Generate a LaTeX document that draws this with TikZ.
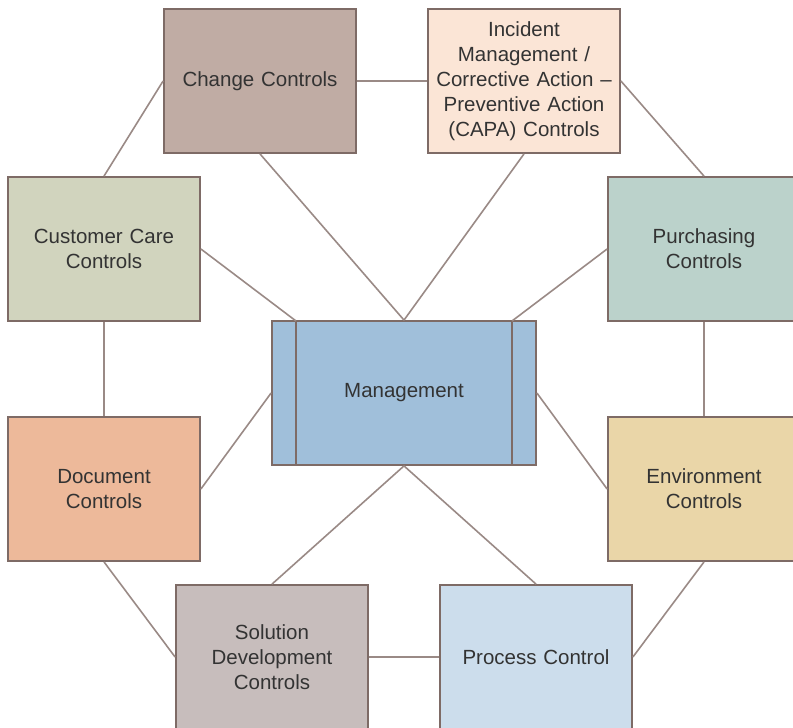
\documentclass[tikz,border=0pt]{standalone}
\usepackage{fontspec}
\setmainfont{Liberation Sans}
\usetikzlibrary{calc}
\definecolor{edge}{HTML}{7E6B66}
\definecolor{wire}{HTML}{9A8A86}
\definecolor{txt}{HTML}{333333}
\definecolor{cChange}{HTML}{C0ACA4}
\definecolor{cIncident}{HTML}{FBE5D6}
\definecolor{cCustomer}{HTML}{D1D4BE}
\definecolor{cPurch}{HTML}{BBD2CB}
\definecolor{cMgmt}{HTML}{A0BFDA}
\definecolor{cDoc}{HTML}{EDB99A}
\definecolor{cEnv}{HTML}{EAD6A8}
\definecolor{cSol}{HTML}{C7BDBC}
\definecolor{cProc}{HTML}{CCDDEC}
\tikzset{
  box/.style={draw=edge, line width=1.8pt, minimum width=192pt, minimum height=144pt,
    inner sep=0pt, align=center, text=txt,
    font=\fontsize{20.5pt}{25pt}\selectfont, text width=185pt},
  link/.style={draw=wire, line width=1.6pt}
}
\begin{document}
\begin{tikzpicture}[x=1pt,y=-1pt]
\useasboundingbox (0,0) rectangle (793,728);
\clip (0,0) rectangle (793,728);
\fill[white] (0,0) rectangle (793,728);
% connectors
\coordinate (mtl) at (296,321);
\coordinate (mtr) at (512,321);
\node[box, fill=cChange] (change) at (260,81) {Change Controls};
\node[box, fill=cIncident] (incident) at (524,81) {Incident\\Management /\\Corrective Action –\\Preventive Action\\(CAPA) Controls};
\node[box, fill=cCustomer] (customer) at (104,249) {Customer Care\\Controls};
\node[box, fill=cPurch] (purch) at (704,249) {Purchasing\\Controls};
\node[box, fill=cMgmt, minimum width=264pt] (mgmt) at (404,393) {Management};
\node[box, fill=cDoc] (doc) at (104,489) {Document\\Controls};
\node[box, fill=cEnv] (env) at (704,489) {Environment\\Controls};
\node[box, fill=cSol] (sol) at (272,657) {Solution\\Development\\Controls};
\node[box, fill=cProc] (proc) at (536,657) {Process Control};
\draw[draw=edge, line width=1.8pt] (mtl) -- (mtl |- mgmt.south);
\draw[draw=edge, line width=1.8pt] (mtr) -- (mtr |- mgmt.south);
\draw[link] (change.east) -- (incident.west);
\draw[link] (change.west) -- (customer.north);
\draw[link] (incident.east) -- (purch.north);
\draw[link] (change.south) -- (mgmt.north);
\draw[link] (incident.south) -- (mgmt.north);
\draw[link] (customer.east) -- (mtl);
\draw[link] (purch.west) -- (mtr);
\draw[link] (customer.south) -- (doc.north);
\draw[link] (purch.south) -- (env.north);
\draw[link] (mgmt.west) -- (doc.east);
\draw[link] (mgmt.east) -- (env.west);
\draw[link] (mgmt.south) -- (sol.north);
\draw[link] (mgmt.south) -- (proc.north);
\draw[link] (doc.south) -- (sol.west);
\draw[link] (env.south) -- (proc.east);
\draw[link] (sol.east) -- (proc.west);
\end{tikzpicture}
\end{document}
